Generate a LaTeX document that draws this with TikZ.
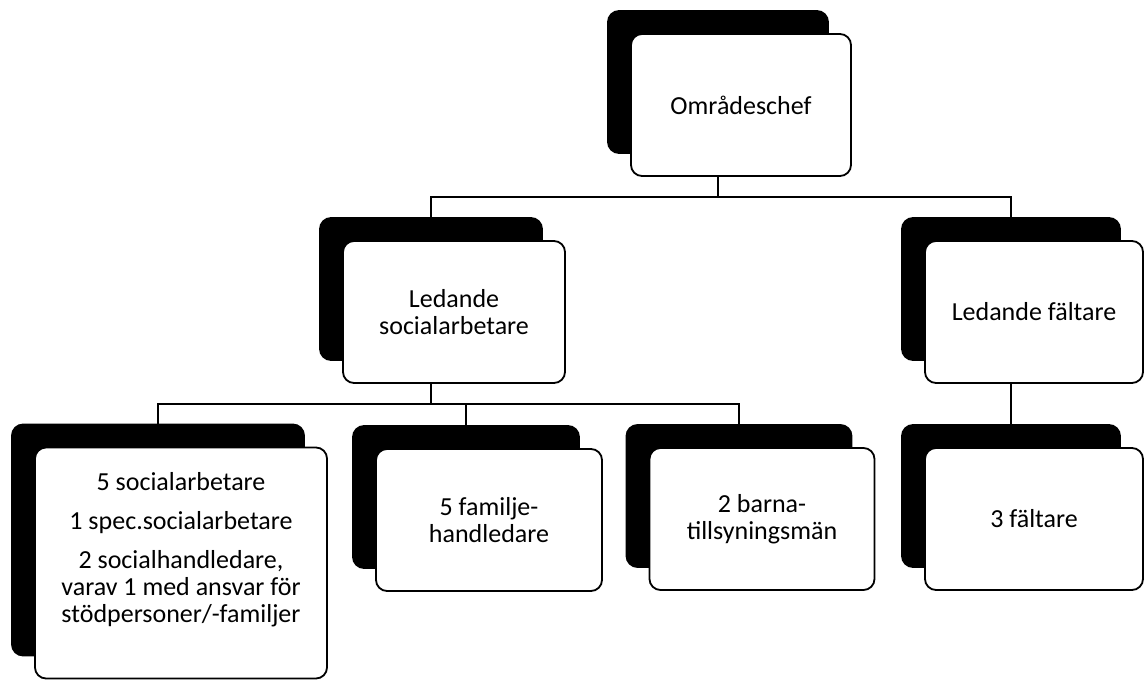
\documentclass[tikz,border=0pt]{standalone}
\usepackage{fontspec}
\setmainfont{Carlito}
\usetikzlibrary{shadows}

\begin{document}
\begin{tikzpicture}[x=1pt,y=-1pt]
    \tikzstyle{orgbox} = 
    [draw,
    line width = 1.8pt,
    rounded corners = 11pt,
    fill = white,
    minimum width = 220pt,
    minimum height = 142pt,
    align = center,
    font = \fontsize{26}{27}\selectfont,
    copy shadow = {shadow xshift=-23pt, shadow yshift=23pt, fill=black, draw=black}
    ]
    \tikzstyle{orglink} = [line width = 1.8pt]

    \useasboundingbox (0,0) rectangle (1144,682);

    % boxes
    \node[orgbox] (chef) at (741,105) {Områdeschef};
    \node[orgbox, minimum width=222pt] (lsoc) at (454,312) {Ledande\\socialarbetare};
    \node[orgbox, minimum width=218pt] (lfalt) at (1034,312) {Ledande fältare};
    \node[orgbox, minimum width=292pt, minimum height=231pt] (soc) at (181,563)
        {5 socialarbetare\\[12pt]
         1 spec.socialarbetare\\[12pt]
         2 socialhandledare,\\
         varav 1 med ansvar för\\
         stödpersoner/-familjer\\[5pt]
         \mbox{}};
    \node[orgbox, minimum width=226pt] (fam) at (489,520) {5 familje-\\handledare};
    \node[orgbox, minimum width=225pt] (barn) at (762,519) {2 barna-\\tillsyningsmän};
    \node[orgbox, minimum width=218pt] (falt) at (1034,519) {3 fältare};

    % connectors
    \draw[orglink] ([xshift=-23pt]chef.south) -- ++(0,20) coordinate (chefbus);
    \draw[orglink] (chefbus) -| ([shift={(-23pt,23pt)}]lsoc.north);
    \draw[orglink] (chefbus) -| ([shift={(-23pt,23pt)}]lfalt.north);
    \draw[orglink] ([xshift=-23pt]lsoc.south) -- ++(0,20) coordinate (socbus);
    \foreach \n in {soc,fam,barn}
        \draw[orglink] (socbus) -| ([shift={(-23pt,23pt)}]\n.north);
    \draw[orglink] ([xshift=-23pt]lfalt.south) -- ([shift={(-23pt,23pt)}]falt.north);
\end{tikzpicture}
\end{document}
